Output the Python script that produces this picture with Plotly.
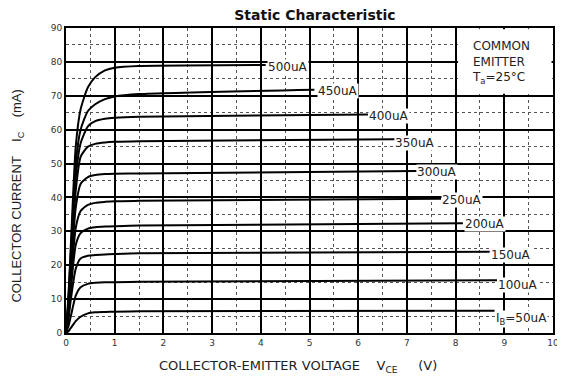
import plotly.graph_objects as go

# ---- data ----
IB_LABELS = ["I<sub>B</sub>=50uA", "100uA", "150uA", "200uA", "250uA",
             "300uA", "350uA", "400uA", "450uA", "500uA"]
VCE_KNEE = [0, 0.05, 0.1, 0.2, 0.3, 0.45, 0.6, 0.8, 1.0, 1.5]
IC_50 = [0, 0.5, 1.5, 3.5, 4.8, 5.8, 6.1, 6.2, 6.3, 6.4]
IC_100 = [0, 2, 5, 11, 13.5, 14.5, 14.8, 15.0, 15.0, 15.1]
IC_150 = [0, 4, 10, 19, 22, 22.8, 23.0, 23.2, 23.3, 23.5]
IC_200 = [0, 5, 13, 26, 29.5, 30.8, 31.2, 31.4, 31.5, 31.7]
IC_250 = [0, 6, 15, 31, 36, 37.8, 38.4, 38.7, 38.9, 39.0]
IC_300 = [0, 7, 18, 37, 44, 46, 46.6, 46.9, 47.0, 47.1]
IC_350 = [0, 8, 20, 42, 52, 55, 55.8, 56.2, 56.4, 56.6]
IC_400 = [0, 9, 22, 46, 56, 61, 62.5, 63.2, 63.5, 63.8]
IC_450 = [0, 10, 24, 50, 60, 65.5, 67.5, 69.0, 69.8, 70.5]
IC_500 = [0, 11, 26, 55, 66, 72.5, 75.5, 77.5, 78.3, 78.8]
VCE_END = [8.8, 8.85, 8.7, 8.15, 7.7, 7.2, 6.75, 6.2, 5.1, 4.1]
IC_END = [6.6, 15.6, 24.0, 32.4, 39.6, 47.8, 57.2, 64.5, 71.8, 79.1]
LABEL_X = [9.35, 9.29, 9.14, 8.6, 8.13, 7.62, 7.17, 6.64, 5.58, 4.56]
LABEL_Y = [4.0, 14.3, 22.9, 32.3, 39.1, 47.6, 56.2, 63.9, 71.5, 78.6]
X_TICKS = list(range(0, 11))
Y_TICKS = list(range(0, 91, 10))

CURVES = [IC_50, IC_100, IC_150, IC_200, IC_250, IC_300, IC_350, IC_400, IC_450, IC_500]

FONT = "DejaVu Sans, Arial, sans-serif"
NARROW = "Liberation Sans Narrow, Arial Narrow, Arial, sans-serif"

fig = go.Figure()
for ic, xe, ye in zip(CURVES, VCE_END, IC_END):
    fig.add_trace(go.Scatter(
        x=VCE_KNEE + [xe], y=ic + [ye], mode="lines",
        line=dict(color="black", width=2, shape="spline", smoothing=0.6),
        showlegend=False, hoverinfo="skip"))

for txt, lx, ly in zip(IB_LABELS, LABEL_X, LABEL_Y):
    fig.add_annotation(x=lx, y=ly, text=txt, showarrow=False,
                       font=dict(family=FONT, size=12, color="#222"),
                       bgcolor="white", borderpad=0)

# white box for the legend note
fig.add_shape(type="rect", x0=8.05, x1=9.97, y0=70.6, y1=89.6,
              fillcolor="white", line=dict(width=0), layer="above")
fig.add_annotation(x=8.3, y=79.8, xanchor="left", yanchor="middle", showarrow=False,
                   text="COMMON<br>EMITTER<br>T<sub>a</sub>=25°C", align="left",
                   font=dict(family=FONT, size=12, color="#222"))

# axis titles (placed as annotations to match reference offsets)
fig.add_annotation(xref="paper", yref="paper", x=0.476, y=-0.11,
                   xanchor="center", yanchor="middle", showarrow=False,
                   text="COLLECTOR-EMITTER VOLTAGE    V<sub>CE</sub>     (V)",
                   font=dict(family=FONT, size=13, color="#222"))
fig.add_annotation(xref="paper", yref="paper", x=-0.099, y=0.45,
                   xanchor="center", yanchor="middle", showarrow=False, textangle=-90,
                   text="COLLECTOR CURRENT    I<sub>C</sub>    (mA)",
                   font=dict(family=NARROW, size=13, color="#222"))

axis_common = dict(showline=True, linecolor="black", linewidth=2, mirror=True,
                   showgrid=True, gridcolor="black", gridwidth=2, zeroline=False,
                   automargin=False, ticklabeloverflow="allow",
                   ticks="", tickfont=dict(family=FONT, size=9, color="#333"))

fig.update_xaxes(range=[0, 10], tickvals=X_TICKS,
                 minor=dict(dtick=0.5, showgrid=True, gridcolor="#555",
                            gridwidth=1, griddash="dot"),
                 **axis_common)
fig.update_yaxes(range=[0, 90], tickvals=Y_TICKS,
                 minor=dict(dtick=5, showgrid=True, gridcolor="#555",
                            gridwidth=1, griddash="dot"),
                 **axis_common)

# page body has an 8px margin; size the figure so it fits the 565x383 window
fig.update_layout(
    width=553, height=375,
    margin=dict(l=58, r=8, t=20, b=50),
    paper_bgcolor="white", plot_bgcolor="white",
    title=dict(text="<b>Static Characteristic</b>", x=0.555, xanchor="center",
               y=0.981, yanchor="middle",
               font=dict(family=FONT, size=14, color="#111")),
)

fig.write_html("out.html")
